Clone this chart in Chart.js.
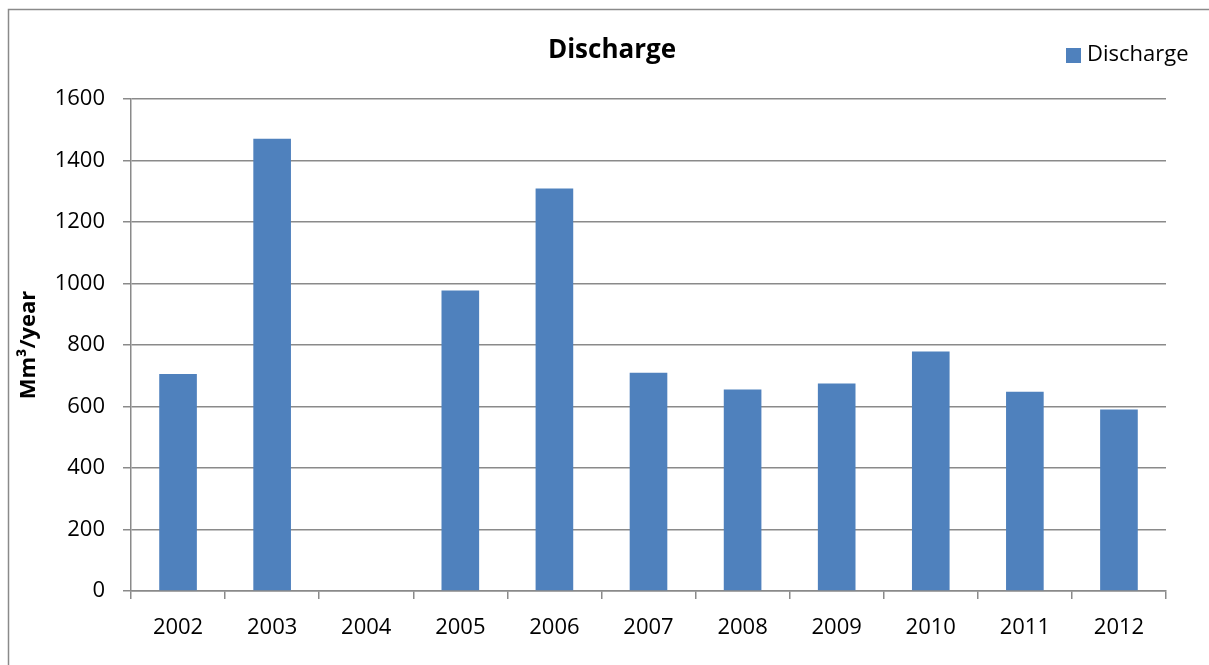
<!DOCTYPE html>
<html>
<head>
<meta charset="utf-8">
<title>Discharge</title>
<script src="https://cdn.jsdelivr.net/npm/chart.js@4/dist/chart.umd.min.js"></script>
<style>
  html, body { margin: 0; padding: 0; background: #fff; }
  canvas { display: block; }
</style>
</head>
<body>
<canvas id="discharge-chart" width="1209" height="665"></canvas>
<script>
// Yearly discharge values (Mm³/year); 2004 has no record
const years = ['2002', '2003', '2004', '2005', '2006', '2007', '2008', '2009', '2010', '2011', '2012'];
const discharge = [706, 1471, null, 977, 1309, 710, 655, 675, 779, 648, 590];
const yTicks = [0, 200, 400, 600, 800, 1000, 1200, 1400, 1600];

const chartTitle = 'Discharge';
const seriesLabel = 'Discharge';
const yAxisLabel = 'Mm³/year';

const barColor = '#4F81BD';
const lineColor = '#8a8a8a';
const fontFamily = "'Open Sans', 'Liberation Sans', sans-serif";

Chart.defaults.font.family = fontFamily;
Chart.defaults.font.size = 22;
Chart.defaults.color = '#000';

// Frame, title and legend drawn like an office chart
const officeDecor = {
  id: 'officeDecor',
  beforeDraw(chart) {
    const ctx = chart.ctx;
    ctx.save();
    ctx.strokeStyle = lineColor;
    ctx.lineWidth = 1.5;
    ctx.beginPath();
    ctx.moveTo(8.5, chart.height);
    ctx.lineTo(8.5, 9.5);
    ctx.lineTo(chart.width, 9.5);
    ctx.stroke();
    ctx.restore();
  },
  afterDraw(chart) {
    const ctx = chart.ctx;
    const ds = chart.data.datasets[0];
    ctx.save();
    // chart title
    ctx.fillStyle = '#000';
    ctx.font = 'bold 26px ' + fontFamily;
    ctx.textAlign = 'center';
    ctx.textBaseline = 'middle';
    ctx.fillText(chartTitle, 612, 51);
    // legend
    ctx.fillStyle = ds.backgroundColor;
    ctx.fillRect(1066, 48, 15, 15);
    ctx.fillStyle = '#000';
    ctx.font = '22px ' + fontFamily;
    ctx.textAlign = 'left';
    ctx.fillText(ds.label, 1087, 55);
    ctx.restore();
  }
};

const ctx = document.getElementById('discharge-chart').getContext('2d');
const dischargeChart = new Chart(ctx, {
  type: 'bar',
  data: {
    labels: years,
    datasets: [
      {
        label: seriesLabel,
        data: discharge,
        backgroundColor: barColor,
        borderWidth: 0,
        categoryPercentage: 1.0,
        barPercentage: 0.4,
      },
    ],
  },
  options: {
    responsive: false,
    animation: false,
    layout: {
      padding: { top: 99, right: 43, bottom: 0, left: 0 },
    },
    plugins: {
      legend: { display: false },
      title: { display: false },
      tooltip: { enabled: false },
    },
    scales: {
      x: {
        grid: {
          offset: true,
          drawOnChartArea: false,
          drawTicks: true,
          tickLength: 8,
          tickColor: lineColor,
          lineWidth: 1.5,
        },
        border: { color: lineColor, width: 1.5 },
        ticks: { padding: 16, maxRotation: 0 },
        afterFit(scale) {
          scale.height = 74;
        },
      },
      y: {
        min: 0,
        max: 1600,
        afterBuildTicks(scale) {
          scale.ticks = yTicks.map(v => ({ value: v }));
        },
        grid: {
          color: lineColor,
          lineWidth: 1.5,
          tickLength: 8,
          tickColor: lineColor,
        },
        border: { color: lineColor, width: 1.5 },
        ticks: {
          padding: 18,
          callback: value => String(value),
        },
        title: {
          display: true,
          text: yAxisLabel,
          font: { weight: 'bold', size: 22 },
          padding: { top: 16, bottom: 0 },
        },
        afterFit(scale) {
          scale.width = 131;
        },
      },
    },
  },
  plugins: [officeDecor],
});
</script>
</body>
</html>
